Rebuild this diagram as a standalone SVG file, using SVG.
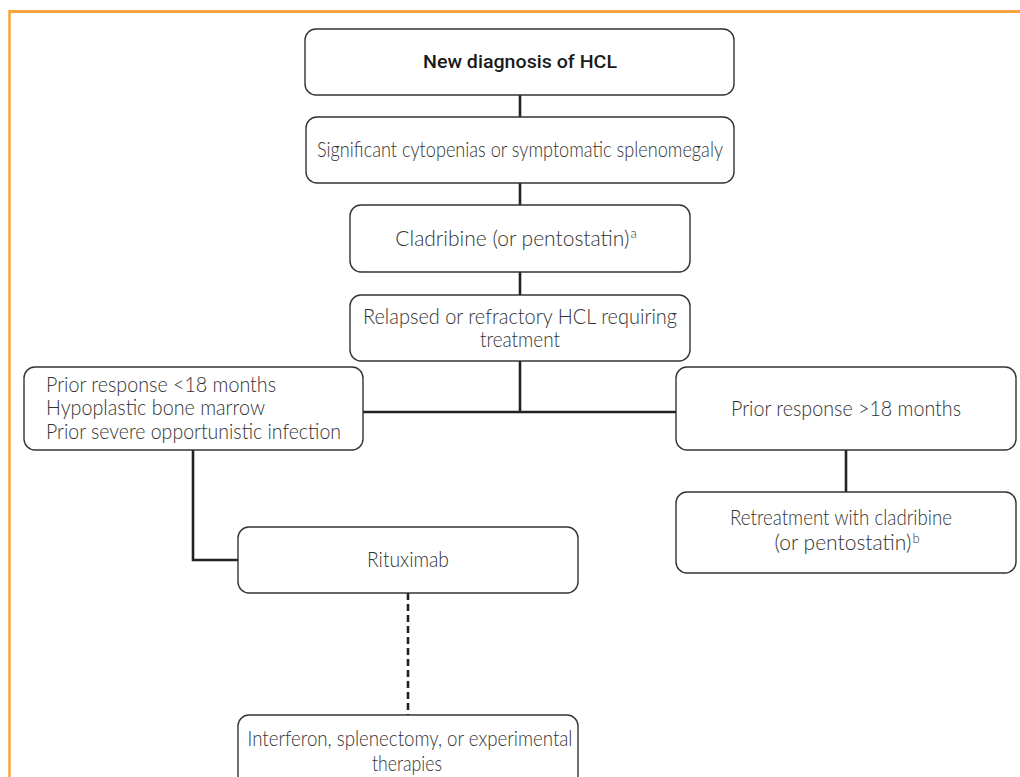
<svg xmlns="http://www.w3.org/2000/svg" width="1020" height="777" viewBox="0 0 1020 777">
<style>
.box{fill:#fff;stroke:#333;stroke-width:1.4}
.t{font-family:Lato,"Open Sans","Liberation Sans",sans-serif;font-weight:300;font-size:21px;fill:#333}
.c{text-anchor:middle}
.b{font-family:Roboto,"Liberation Sans",sans-serif;font-weight:500;font-size:19px;fill:#1a1a1a;text-anchor:middle}
.conn{fill:none;stroke:#222;stroke-width:2.6}
.sup{font-size:13px}
</style>
<rect width="1020" height="777" fill="#fff"/>
<g id="frame" fill="none" stroke="#F9A33E">
<line x1="9.5" y1="11.5" x2="1020" y2="11.5" stroke-width="3"/>
<line x1="9.5" y1="10" x2="9.5" y2="777" stroke-width="2.5"/>
</g>
<g id="connectors">
<line class="conn" x1="520" y1="95" x2="520" y2="117"/>
<line class="conn" x1="520" y1="183" x2="520" y2="205"/>
<line class="conn" x1="520" y1="272" x2="520" y2="295"/>
<line class="conn" x1="520" y1="361" x2="520" y2="412"/>
<line class="conn" x1="363" y1="412" x2="676" y2="412"/>
<line class="conn" x1="846" y1="450" x2="846" y2="492"/>
<path class="conn" d="M193 450V560H238"/>
<line class="conn" x1="408" y1="593" x2="408" y2="715" stroke-dasharray="7 4"/>
</g>
<g id="n1"><rect class="box" x="305" y="29" width="429" height="66" rx="11"/><text class="b" x="520" y="68" textLength="194" lengthAdjust="spacingAndGlyphs">New diagnosis of HCL</text></g>
<g id="n2"><rect class="box" x="306" y="117" width="428" height="66" rx="11"/><text class="t c" x="520" y="157" textLength="406" lengthAdjust="spacingAndGlyphs">Significant cytopenias or symptomatic splenomegaly</text></g>
<g id="n3"><rect class="box" x="350" y="205" width="340" height="67" rx="11"/><text class="t c" x="516" y="246" font-size="20">Cladribine (or pentostatin)<tspan class="sup" dx="1" dy="-8">a</tspan></text></g>
<g id="n4"><rect class="box" x="350" y="295" width="340" height="66" rx="11"/><text class="t c" x="520" y="324" textLength="314" lengthAdjust="spacingAndGlyphs">Relapsed or refractory HCL requiring</text><text class="t c" x="520" y="347" textLength="80" lengthAdjust="spacingAndGlyphs">treatment</text></g>
<g id="n5"><rect class="box" x="24" y="367" width="339" height="83" rx="11"/>
<text class="t" x="46" y="392" textLength="230" lengthAdjust="spacingAndGlyphs">Prior response &lt;18 months</text>
<text class="t" x="46" y="415" textLength="219" lengthAdjust="spacingAndGlyphs">Hypoplastic bone marrow</text>
<text class="t" x="46" y="439" textLength="295" lengthAdjust="spacingAndGlyphs">Prior severe opportunistic infection</text></g>
<g id="n6"><rect class="box" x="676" y="367" width="340" height="83" rx="11"/><text class="t c" x="846" y="416" textLength="230" lengthAdjust="spacingAndGlyphs">Prior response &gt;18 months</text></g>
<g id="n7"><rect class="box" x="676" y="492" width="340" height="81" rx="11"/><text class="t c" x="841" y="525" textLength="222" lengthAdjust="spacingAndGlyphs">Retreatment with cladribine</text><text class="t c" x="847" y="550">(or pentostatin)<tspan class="sup" dx="1" dy="-7">b</tspan></text></g>
<g id="n8"><rect class="box" x="238" y="527" width="340" height="66" rx="11"/><text class="t c" x="408" y="567" textLength="82" lengthAdjust="spacingAndGlyphs">Rituximab</text></g>
<g id="n9"><rect class="box" x="238" y="715" width="340" height="85" rx="11"/><text class="t c" x="410" y="746" textLength="325" lengthAdjust="spacingAndGlyphs">Interferon, splenectomy, or experimental</text><text class="t c" x="407" y="771" textLength="70" lengthAdjust="spacingAndGlyphs">therapies</text></g>
</svg>
